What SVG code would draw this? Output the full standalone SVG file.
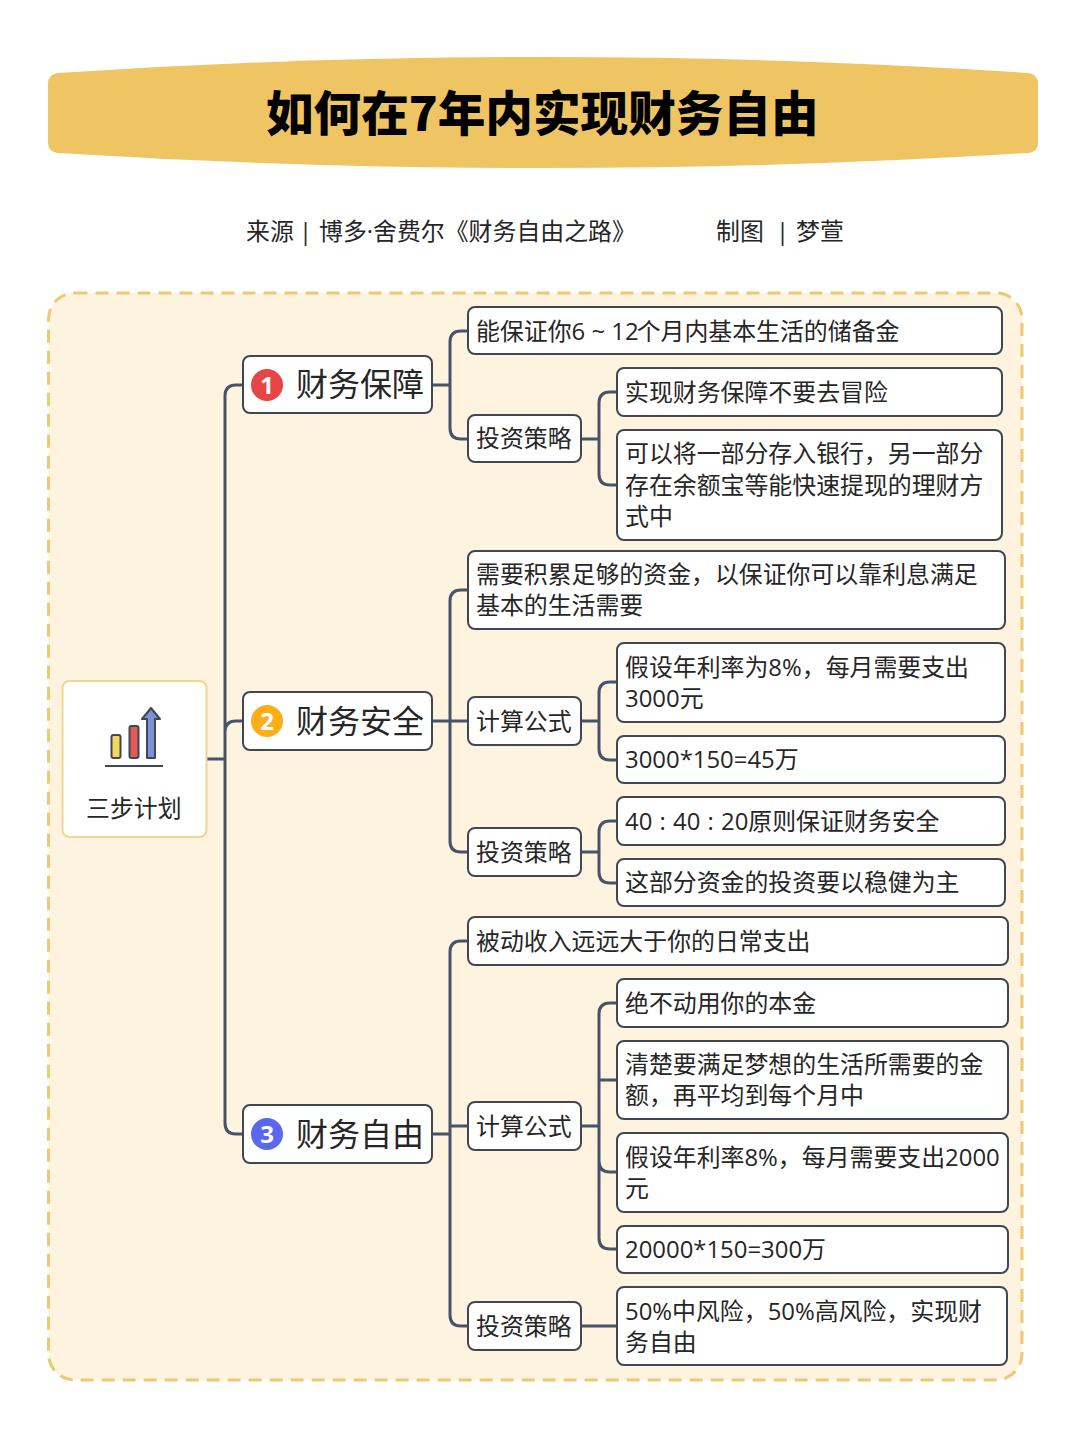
<svg xmlns="http://www.w3.org/2000/svg" width="1080" height="1439" viewBox="0 0 1080 1439">
<style>
text{font-family:"Open Sans","Noto Sans CJK SC",sans-serif;fill:#262626;font-size:23.900px}
.n rect{fill:#fff;stroke:#3f4756;stroke-width:2}
.l1{font-size:32px}
.c{fill:none;stroke:#46536a;stroke-width:3}
</style>
<rect width="1080" height="1439" fill="#fff"/>
<g id="title">
<path d="M58 73Q300 57 543 57Q790 57 1028 73Q1038 74 1038 84V143Q1038 152 1028 153Q790 168 543 168Q300 168 58 153Q48 152 48 143V84Q48 74 58 73Z" fill="#efc564"/>
<text x="266" y="131" style="font-family:'Noto Sans CJK SC',sans-serif;font-size:47.600px;font-weight:900;fill:#000">如何在7年内实现财务自由</text>
</g>
<g id="subtitle">
<text x="246" y="240">来源</text><text x="299" y="240">|</text><text x="319" y="240">博多·舍费尔《财务自由之路》</text>
<text x="716" y="240">制图</text><text x="776" y="240">|</text><text x="796" y="240">梦萱</text>
</g>
<rect id="panel" x="48.500" y="293" width="973.500" height="1087" rx="26" fill="#fdf3df" stroke="#efc873" stroke-width="3" stroke-dasharray="13 8"/>
<g id="connectors" class="c">
<path d="M207 759H225M243 385H236Q225 385 225 396V1123Q225 1134 236 1134H243M243 721H236Q225 721 225 732"/>
<path d="M432 385H450M468 331H461Q450 331 450 342V428Q450 439 461 439H468"/>
<path d="M581 439H599M617 392H610Q599 392 599 403V474Q599 485 610 485H617"/>
<path d="M432 721H468M468 590H461Q450 590 450 601V841Q450 852 461 852H468"/>
<path d="M581 721H599M617 682H610Q599 682 599 693V749Q599 760 610 760H617"/>
<path d="M581 852H599M617 821H610Q599 821 599 832V872Q599 883 610 883H617"/>
<path d="M432 1134H450M450 1126H468M468 941H461Q450 941 450 952V1315Q450 1326 461 1326H468"/>
<path d="M581 1126H599M617 1003H610Q599 1003 599 1014V1238Q599 1249 610 1249H617M599 1080H617M599 1161Q599 1172 610 1172H617"/>
<path d="M581 1326H617"/>
</g>
<g id="root" class="n">
<rect x="62.500" y="681" width="144" height="156" rx="7" style="stroke:#f1d593"/>
<rect x="111.500" y="735" width="9" height="23" rx="2" style="fill:#f7d65c;stroke:#3f4756"/>
<rect x="129.500" y="726" width="9" height="32" rx="2" style="fill:#e45a56;stroke:#3f4756"/>
<path d="M147 758V719H142L151 708L160 719H155V758Z" fill="#7f90d8" stroke="#3f4756" stroke-width="2" stroke-linejoin="round"/>
<path d="M105 766H163" stroke="#3f4756" stroke-width="2"/>
<text x="86" y="817">三步计划</text>
</g>
<g id="n1" class="n"><rect x="243" y="356" width="189" height="57" rx="7"/><circle cx="267" cy="385" r="16" fill="#e64545"/><text x="267" y="394" text-anchor="middle" style="font-size:24px;font-weight:700;fill:#fff">1</text><text x="296" y="396" class="l1">财务保障</text></g>
<g id="n2" class="n"><rect x="243" y="692" width="189" height="58" rx="7"/><circle cx="267" cy="721" r="16" fill="#fbae17"/><text x="267" y="730" text-anchor="middle" style="font-size:24px;font-weight:700;fill:#fff">2</text><text x="296" y="733" class="l1">财务安全</text></g>
<g id="n3" class="n"><rect x="243" y="1105" width="189" height="58" rx="7"/><circle cx="267" cy="1134" r="16" fill="#5a68ee"/><text x="267" y="1143" text-anchor="middle" style="font-size:24px;font-weight:700;fill:#fff">3</text><text x="296" y="1146" class="l1">财务自由</text></g>
<g id="a1" class="n"><rect x="468" y="307" width="534" height="47" rx="7"/><text x="476" y="340">能保证你6 ~ 12<tspan dx="-2">个月内基本生活的储备金</tspan></text></g>
<g id="a2" class="n"><rect x="468" y="415" width="113" height="47" rx="7"/><text x="476" y="447">投资策略</text></g>
<g id="a3" class="n"><rect x="617" y="368" width="385" height="48" rx="7"/><text x="625" y="401">实现财务保障不要去冒险</text></g>
<g id="a4" class="n"><rect x="617" y="430" width="385" height="110" rx="7"/><text x="625" y="462">可以将一部分存入银行，另一部分</text><text x="625" y="494">存在余额宝等能快速提现的理财方</text><text x="625" y="525">式中</text></g>
<g id="b1" class="n"><rect x="468" y="551" width="537" height="78" rx="7"/><text x="476" y="583">需要积累足够的资金，以保证你可以靠利息满足</text><text x="476" y="614">基本的生活需要</text></g>
<g id="b2" class="n"><rect x="468" y="697" width="113" height="48" rx="7"/><text x="476" y="730">计算公式</text></g>
<g id="b3" class="n"><rect x="617" y="643" width="388" height="79" rx="7"/><text x="625" y="676">假设年利率为8%，每月需要支出</text><text x="625" y="707">3000元</text></g>
<g id="b4" class="n"><rect x="617" y="736" width="388" height="47" rx="7"/><text x="625" y="768">3000*150=45万</text></g>
<g id="b5" class="n"><rect x="468" y="828" width="113" height="48" rx="7"/><text x="476" y="861">投资策略</text></g>
<g id="b6" class="n"><rect x="617" y="797" width="388" height="48" rx="7"/><text x="625" y="830" word-spacing="1">40 : 40 : 20原则保证财务安全</text></g>
<g id="b7" class="n"><rect x="617" y="859" width="388" height="47" rx="7"/><text x="625" y="891">这部分资金的投资要以稳健为主</text></g>
<g id="c1" class="n"><rect x="468" y="917" width="540" height="48" rx="7"/><text x="476" y="950">被动收入远远大于你的日常支出</text></g>
<g id="c2" class="n"><rect x="468" y="1102" width="113" height="48" rx="7"/><text x="476" y="1135">计算公式</text></g>
<g id="c3" class="n"><rect x="617" y="979" width="391" height="48" rx="7"/><text x="625" y="1012">绝不动用你的本金</text></g>
<g id="c4" class="n"><rect x="617" y="1041" width="391" height="78" rx="7"/><text x="625" y="1073">清楚要满足梦想的生活所需要的金</text><text x="625" y="1104">额，再平均到每个月中</text></g>
<g id="c5" class="n"><rect x="617" y="1133" width="391" height="79" rx="7"/><text x="625" y="1166">假设年利率8%，每月需要支出2000</text><text x="625" y="1197">元</text></g>
<g id="c6" class="n"><rect x="617" y="1226" width="391" height="47" rx="7"/><text x="625" y="1258">20000*150=300万</text></g>
<g id="c7" class="n"><rect x="468" y="1302" width="113" height="48" rx="7"/><text x="476" y="1335">投资策略</text></g>
<g id="c8" class="n"><rect x="617" y="1287" width="390" height="78" rx="7"/><text x="625" y="1320">50%中风险，50%高风险，实现财</text><text x="625" y="1351">务自由</text></g>
</svg>
